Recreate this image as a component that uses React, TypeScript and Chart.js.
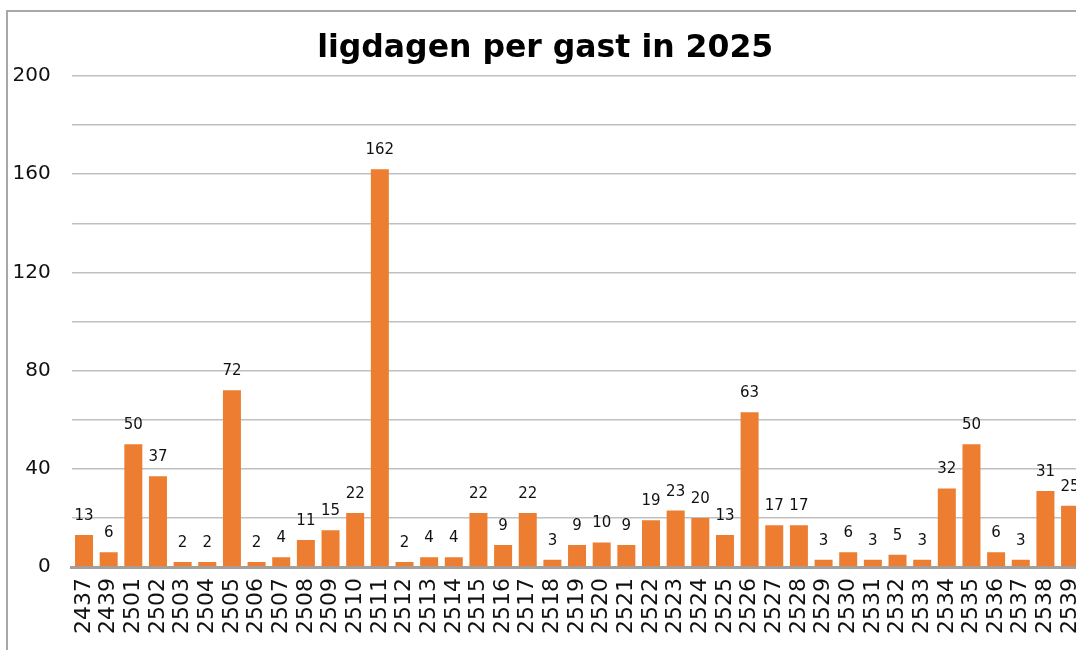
import React, { useEffect, useRef } from "react";
import { Chart, registerables } from "chart.js";

Chart.register(...registerables);

const TITLE = "ligdagen per gast in 2025";
const categories = [
  "2437", "2439", "2501", "2502", "2503", "2504", "2505", "2506", "2507", "2508",
  "2509", "2510", "2511", "2512", "2513", "2514", "2515", "2516", "2517", "2518",
  "2519", "2520", "2521", "2522", "2523", "2524", "2525", "2526", "2527", "2528",
  "2529", "2530", "2531", "2532", "2533", "2534", "2535", "2536", "2537", "2538",
  "2539",
];
const ligdagen = [
  13, 6, 50, 37, 2, 2, 72, 2, 4, 11,
  15, 22, 162, 2, 4, 4, 22, 9, 22, 3,
  9, 10, 9, 19, 23, 20, 13, 63, 17, 17,
  3, 6, 3, 5, 3, 32, 50, 6, 3, 31,
  25,
];
const yMin = 0;
const yMax = 200;
const yGridStep = 20;
const yLabelStep = 40;

const FONT = "'DejaVu Sans', Verdana, sans-serif";

const valueLabels = {
  id: "valueLabels",
  afterDatasetsDraw(chart: any) {
    const ctx = chart.ctx;
    const meta = chart.getDatasetMeta(0);
    const data = chart.data.datasets[0].data;
    ctx.save();
    ctx.font = `15px ${FONT}`;
    ctx.fillStyle = "#111";
    ctx.textAlign = "center";
    ctx.textBaseline = "alphabetic";
    meta.data.forEach((bar: any, i: number) => {
      ctx.fillText(String(data[i]), bar.x, bar.y - 15);
    });
    ctx.restore();
  },
};

export default function App() {
  const ref = useRef<HTMLCanvasElement | null>(null);

  useEffect(() => {
    if (!ref.current) return;
    const chart = new Chart(ref.current, {
      type: "bar",
      data: {
        labels: categories,
        datasets: [
          {
            data: ligdagen,
            backgroundColor: "#ED7D31",
            borderWidth: 0,
            barPercentage: 0.73,
            categoryPercentage: 1,
          },
        ],
      },
      options: {
        animation: false,
        responsive: false,
        maintainAspectRatio: false,
        layout: { padding: { left: 0, right: 25.6, top: 0, bottom: 0 } },
        plugins: {
          legend: { display: false },
          tooltip: { enabled: false },
          title: {
            display: true,
            text: TITLE,
            color: "#000",
            font: { family: FONT, size: 31.5, weight: "bold", lineHeight: 1.2 },
            padding: { top: 18, bottom: 8.2 },
          },
        },
        scales: {
          x: {
            grid: { display: false, drawTicks: false },
            border: { display: true, color: "#a0a0a0", width: 3 },
            ticks: {
              color: "#111",
              font: { family: FONT, size: 22 },
              minRotation: 90,
              maxRotation: 90,
              autoSkip: false,
              padding: 11,
            },
            afterFit(scale: any) {
              scale.height = 105;
            },
          },
          y: {
            min: yMin,
            max: yMax,
            grid: { color: "#c0c0c0", lineWidth: 1.5, drawTicks: false },
            border: { display: false },
            ticks: {
              stepSize: yGridStep,
              color: "#111",
              font: { family: FONT, size: 20 },
              padding: 21,
              callback: (v: any) => (Number(v) % yLabelStep === 0 ? String(v) : ""),
            },
            afterFit(scale: any) {
              scale.width = 63.7;
            },
          },
        },
      },
      plugins: [valueLabels],
    });
    return () => chart.destroy();
  }, []);

  return (
    <div
      style={{
        position: "fixed",
        left: 0,
        top: 0,
        width: 1076,
        height: 650,
        overflow: "hidden",
        background: "#fff",
      }}
    >
      <div
        style={{
          position: "absolute",
          left: 6,
          top: 10,
          width: 1200,
          height: 800,
          borderLeft: "2px solid #a8a8a8",
          borderTop: "2px solid #a8a8a8",
        }}
      />
      <canvas
        ref={ref}
        width={1100}
        height={660}
        style={{ position: "absolute", left: 8, top: 12, width: 1100, height: 660 }}
      />
    </div>
  );
}
